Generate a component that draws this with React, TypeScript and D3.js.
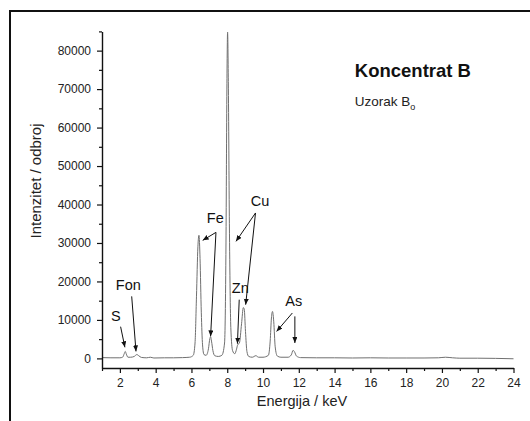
import { useEffect, useRef } from 'react';
import * as d3 from 'd3';

// EDS spectrum (energy in keV, counts)
const energies = [
  1.0, 1.5, 2.0, 2.15, 2.25, 2.3, 2.36, 2.45, 2.6, 2.8, 2.95, 3.05, 3.2, 3.5, 3.7, 3.9,
  4.5, 5.0, 5.5, 5.9, 6.1, 6.2, 6.28, 6.36, 6.42, 6.48, 6.55, 6.62, 6.7, 6.82, 6.95,
  7.03, 7.07, 7.12, 7.2, 7.3, 7.5, 7.7, 7.85, 7.93, 7.98, 8.02, 8.06, 8.12, 8.2, 8.3,
  8.42, 8.52, 8.58, 8.68, 8.8, 8.9, 8.95, 9.02, 9.1, 9.2, 9.4, 9.6, 9.75, 10.0, 10.3,
  10.4, 10.47, 10.53, 10.6, 10.68, 10.8, 11.0, 11.4, 11.58, 11.68, 11.76, 11.87, 12.1,
  13, 14, 15, 16, 17, 18, 19, 19.8, 20.2, 20.6, 21, 22, 23, 24,
];
const counts = [
  200, 150, 150, 300, 1300, 1800, 1100, 300, 300, 500, 1000, 700, 250, 150, 300, 100,
  150, 150, 200, 300, 800, 4000, 16000, 29000, 32000, 26000, 12000, 3500, 1000, 800, 2500,
  5200, 5600, 4500, 2000, 700, 500, 800, 4000, 30000, 70000, 84800, 72000, 35000, 8000, 2000,
  1200, 2400, 3500, 4000, 9000, 13200, 12800, 7000, 1800, 500, 300, 700, 300, 300, 800,
  4500, 10500, 12200, 9500, 3000, 600, 300, 300, 900, 2100, 1700, 600, 200,
  150, 150, 100, 150, 100, 100, 100, 150, 300, 150, 50, 50, 0, -100,
];

const xMajor = [2, 4, 6, 8, 10, 12, 14, 16, 18, 20, 22, 24];
const xMinor = [1, 3, 5, 7, 9, 11, 13, 15, 17, 19, 21, 23];
const yMajor = [0, 10000, 20000, 30000, 40000, 50000, 60000, 70000, 80000];
const yMinor = [5000, 15000, 25000, 35000, 45000, 55000, 65000, 75000, 85000];

// peak labels: text, energy, counts (baseline position)
const peakLabels = ['S', 'Fon', 'Fe', 'Cu', 'Zn', 'As'];
const labelE = [1.78, 2.47, 7.33, 9.83, 8.73, 11.72];
const labelC = [9600, 17860, 35200, 39520, 17000, 13520];

// arrows: start (E, counts) -> end (E, counts)
const arrowFrom = [
  [2.04, 8240], [2.66, 16120], [7.37, 32760], [7.37, 32760],
  [9.58, 37800], [9.58, 37800], [8.67, 15260], [11.64, 11800], [11.78, 10920],
];
const arrowTo = [
  [2.28, 2880], [2.9, 1820], [6.63, 30680], [7.07, 5720],
  [8.49, 30420], [9.03, 13960], [8.57, 3820], [10.76, 7020], [11.78, 4000],
];

const font = '"Liberation Sans", Arial, sans-serif';

export default function App() {
  const svgRef = useRef<SVGSVGElement>(null);

  useEffect(() => {
    if (!svgRef.current) return;
    const svg = d3.select(svgRef.current);
    svg.selectAll('*').remove();

    const x = d3.scaleLinear().domain([1, 24]).range([102, 513.5]);
    const y = d3.scaleLinear().domain([-2500, 85000]).range([368, 31.4]);

    svg.append('rect').attr('width', 530).attr('height', 421).attr('fill', '#fff');

    // outer frame (runs off the right and bottom edges)
    svg.append('rect')
      .attr('x', 10).attr('y', 11).attr('width', 540).attr('height', 440)
      .attr('fill', 'none').attr('stroke', '#111').attr('stroke-width', 2);

    svg.append('defs').append('marker')
      .attr('id', 'arrow')
      .attr('markerUnits', 'userSpaceOnUse')
      .attr('markerWidth', 7).attr('markerHeight', 6)
      .attr('refX', 6).attr('refY', 2.5)
      .attr('orient', 'auto')
      .append('path').attr('d', 'M0,0 L6,2.5 L0,5 Z').attr('fill', '#111');

    // spectrum
    const pts = energies.map((e, i) => [e, counts[i]] as [number, number]);
    const line = d3.line<[number, number]>()
      .x(d => x(d[0]))
      .y(d => y(d[1]))
      .curve(d3.curveMonotoneX);
    svg.append('path')
      .datum(pts)
      .attr('d', line)
      .attr('fill', 'none')
      .attr('stroke', '#707070')
      .attr('stroke-width', 1);

    // x axis
    const xa = svg.append('g').attr('transform', `translate(0,${y(-2500)})`)
      .call(d3.axisBottom(x).tickValues(xMajor).tickSize(5).tickSizeOuter(0).tickPadding(5.5).tickFormat(d3.format('d')));
    svg.append('g').attr('transform', `translate(0,${y(-2500)})`)
      .call(d3.axisBottom(x).tickValues(xMinor).tickSize(3).tickSizeOuter(0).tickFormat(() => ''))
      .select('.domain').remove();

    // y axis
    const ya = svg.append('g').attr('transform', `translate(${x(1)},0)`)
      .call(d3.axisLeft(y).tickValues(yMajor).tickSize(5).tickSizeOuter(0).tickPadding(6).tickFormat(d3.format('d')));
    svg.append('g').attr('transform', `translate(${x(1)},0)`)
      .call(d3.axisLeft(y).tickValues(yMinor).tickSize(3).tickSizeOuter(0).tickFormat(() => ''))
      .select('.domain').remove();

    [xa, ya].forEach(a => {
      a.selectAll('text').attr('font-family', font).attr('font-size', 12).attr('fill', '#222');
    });
    svg.selectAll('.domain').attr('stroke', '#111').attr('stroke-width', 1.4);
    svg.selectAll('.tick line').attr('stroke', '#111').attr('stroke-width', 1.2);

    // axis titles
    svg.append('text')
      .attr('x', 302).attr('y', 406)
      .attr('text-anchor', 'middle')
      .attr('font-family', font).attr('font-size', 14.5).attr('fill', '#222')
      .text('Energija / keV');
    svg.append('text')
      .attr('transform', 'translate(41,181) rotate(-90)')
      .attr('text-anchor', 'middle')
      .attr('font-family', font).attr('font-size', 15).attr('fill', '#222')
      .text('Intenzitet / odbroj');

    // title
    svg.append('text')
      .attr('x', x(15.13)).attr('y', y(73240))
      .attr('font-family', font).attr('font-size', 18.5).attr('font-weight', 'bold').attr('fill', '#111')
      .text('Koncentrat B');
    const sub = svg.append('text')
      .attr('x', x(15.13)).attr('y', y(65520))
      .attr('font-family', font).attr('font-size', 13.5).attr('fill', '#222');
    sub.append('tspan').text('Uzorak B');
    sub.append('tspan').attr('dy', 4).attr('font-size', 9).text('o');

    // peak labels
    peakLabels.forEach((t, i) => {
      svg.append('text')
        .attr('x', x(labelE[i])).attr('y', y(labelC[i]))
        .attr('text-anchor', 'middle')
        .attr('font-family', font).attr('font-size', 14.5).attr('fill', '#111')
        .text(t);
    });

    arrowFrom.forEach((f, i) => {
      const t = arrowTo[i];
      svg.append('line')
        .attr('x1', x(f[0])).attr('y1', y(f[1]))
        .attr('x2', x(t[0])).attr('y2', y(t[1]))
        .attr('stroke', '#111').attr('stroke-width', 1)
        .attr('marker-end', 'url(#arrow)');
    });
  }, []);

  return (
    <svg
      ref={svgRef}
      width={530}
      height={421}
      style={{ position: 'fixed', left: 0, top: 0, display: 'block' }}
    />
  );
}
